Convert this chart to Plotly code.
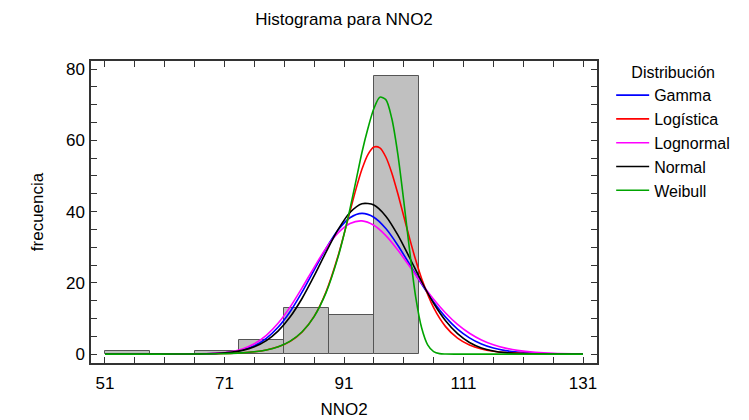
import plotly.graph_objects as go

# ---- data ----
bin_start = 51.0
bin_width = 7.5
counts = [1, 0, 1, 4, 13, 11, 78]

x_grid = [51, 56, 61, 64, 67, 70, 72, 74, 76, 78, 80, 82, 84, 86, 88, 90, 92, 94, 96, 98,
          100, 102, 104, 106, 108, 110, 112, 114, 116, 118, 120, 123, 126, 131]
gamma = [0, 0, 0.001, 0.007, 0.04, 0.20, 0.51, 1.15, 2.36, 4.42, 7.58, 11.96, 17.45, 23.58,
         29.64, 34.79, 38.26, 39.48, 38.41, 35.23, 30.55, 25.14, 19.66, 14.63, 10.38, 7.03,
         4.57, 2.84, 1.69, 0.97, 0.54, 0.21, 0.07, 0.01]
lognormal = [0, 0, 0.001, 0.008, 0.053, 0.26, 0.65, 1.45, 2.90, 5.26, 8.71, 13.25, 18.64,
             24.36, 29.73, 34.02, 36.67, 37.38, 36.14, 33.26, 29.22, 24.58, 19.84, 15.40,
             11.54, 8.35, 5.85, 3.97, 2.62, 1.68, 1.05, 0.50, 0.22, 0.05]
normal = [0, 0, 0.002, 0.012, 0.056, 0.22, 0.49, 1.04, 2.05, 3.78, 6.51, 10.46, 15.67, 21.93,
          28.64, 34.91, 39.73, 42.2, 41.83, 38.71, 33.44, 26.97, 20.30, 14.26, 9.35, 5.72,
          3.27, 1.74, 0.87, 0.40, 0.18, 0.044, 0.009, 0]

x_logistic = [51, 56, 61, 64, 67, 70, 72, 74, 76, 78, 80, 82, 84, 86, 88, 90, 92, 93, 94, 95,
              96, 97, 98, 99, 100, 101, 102, 103, 104, 106, 108, 110, 112, 114, 116, 118,
              120, 123, 126, 131]
logistica = [0.0005, 0.002, 0.009, 0.021, 0.049, 0.117, 0.207, 0.367, 0.653, 1.155, 2.039,
             3.577, 6.212, 10.58, 17.51, 27.53, 39.99, 46.29, 51.86, 56.0, 58.11, 57.87,
             55.31, 50.84, 45.07, 38.70, 32.32, 26.38, 21.14, 13.01, 7.71, 4.47, 2.55, 1.45,
             0.82, 0.46, 0.26, 0.11, 0.046, 0.011]

x_weibull = [51, 60, 66, 70, 74, 76, 78, 80, 82, 84, 86, 88, 90, 91, 92, 93, 94, 95, 96, 97,
             98, 99, 100, 101, 102, 103, 104, 105, 106, 107, 108, 110, 115, 131]
weibull = [0, 0.003, 0.025, 0.097, 0.348, 0.643, 1.165, 2.079, 3.642, 6.264, 10.53, 17.24,
           27.21, 33.57, 40.77, 48.59, 56.58, 63.3, 68.9, 72.1, 71.4, 66.1, 56.2, 43.0, 28.8,
           16.0, 7.3, 2.6, 0.7, 0.13, 0.02, 0, 0, 0]

x_ticks = [51, 71, 91, 111, 131]
y_ticks = [0, 20, 40, 60, 80]

names = ["Gamma", "Logística", "Lognormal", "Normal", "Weibull"]
colors = ["#0000FF", "#FF0000", "#FF00FF", "#000000", "#00A400"]

FONT = "Liberation Sans, Arial, sans-serif"

bin_centers = [bin_start + bin_width * (i + 0.5) for i in range(len(counts))]

fig = go.Figure()
fig.add_trace(go.Bar(
    x=bin_centers, y=counts, width=bin_width,
    marker=dict(color="#C0C0C0", line=dict(color="#555555", width=1)),
    showlegend=False, hoverinfo="skip"))

series = [(x_grid, gamma), (x_logistic, logistica), (x_grid, lognormal), (x_grid, normal),
          (x_weibull, weibull)]
for (xs, ys), nm, col in zip(series, names, colors):
    fig.add_trace(go.Scatter(
        x=xs, y=ys, mode="lines", name=nm,
        line=dict(color=col, width=1.6, shape="spline", smoothing=0.8)))

axis_common = dict(
    showline=True, linecolor="#333333", linewidth=1.5, mirror="ticks",
    ticks="inside", ticklen=6, tickwidth=1.2, tickcolor="#333333",
    showgrid=False, zeroline=False,
    tickfont=dict(family=FONT, size=17, color="black"),
)

# the page body adds an 8 px offset, so the figure is 8 px smaller than the window
fig.update_layout(
    width=741, height=412,
    paper_bgcolor="white", plot_bgcolor="white",
    margin=dict(l=83, r=152, t=53, b=57, autoexpand=False),
    font=dict(family=FONT, color="black"),
    title=dict(text="Histograma para NNO2", x=0.5, xref="paper", xanchor="center",
               y=0.973, yref="container", yanchor="middle",
               font=dict(family=FONT, size=17, color="black")),
    bargap=0,
    legend=dict(
        x=1.028, xanchor="left", y=1.012, yanchor="top",
        font=dict(family=FONT, size=16, color="black"),
        title=dict(text="Distribución", side="top center",
                   font=dict(family=FONT, size=16, color="black")),
        itemwidth=33, bgcolor="rgba(0,0,0,0)", tracegroupgap=0,
    ),
    xaxis=dict(
        range=[48.66, 133.34], tickmode="array", tickvals=x_ticks,
        ticktext=[str(v) for v in x_ticks],
        ticklabelstandoff=4,
        minor=dict(ticks="inside", ticklen=6, tickwidth=1.2, tickcolor="#333333",
                   tick0=51, dtick=5),
        title=dict(text="NNO2", font=dict(family=FONT, size=17, color="black"), standoff=11),
        **axis_common),
    yaxis=dict(
        range=[-2.5, 82.25], tickmode="array", tickvals=y_ticks,
        ticklabelstandoff=1,
        minor=dict(ticks="inside", ticklen=6, tickwidth=1.2, tickcolor="#333333",
                   tick0=0, dtick=5),
        title=dict(text="frecuencia", font=dict(family=FONT, size=17, color="black"),
                   standoff=18),
        **axis_common),
)

fig.write_html("out.html")
